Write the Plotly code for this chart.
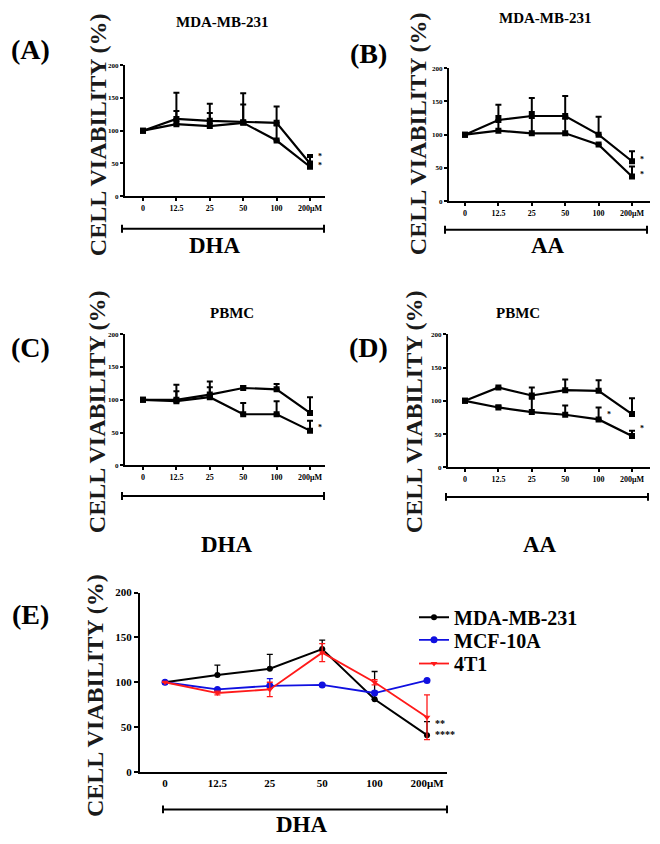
import plotly.graph_objects as go

doses = ["0", "12.5", "25", "50", "100", "200μM"]
xpos = [0, 1, 2, 3, 4, 5]
yticks = [0, 50, 100, 150, 200]

# Panel A: MDA-MB-231, DHA
A_s1 = [100, 118, 115, 113, 112, 50]
A_s1_err = [0, 40, 26, 44, 25, 13]
A_s2 = [100, 110, 107, 112, 85, 45]
A_s2_err = [0, 20, 20, 28, 23, 15]
# Panel B: MDA-MB-231, AA
B_s1 = [100, 122, 128, 128, 100, 60]
B_s1_err = [0, 23, 27, 30, 27, 15]
B_s2 = [100, 106, 102, 102, 85, 37]
B_s2_err = [0, 22, 32, 22, 0, 15]
# Panel C: PBMC, DHA
C_s1 = [100, 100, 108, 118, 116, 80]
C_s1_err = [0, 23, 20, 3, 8, 24]
C_s2 = [100, 98, 104, 78, 78, 53]
C_s2_err = [0, 15, 15, 17, 20, 15]
# Panel D: PBMC, AA
D_s1 = [100, 120, 108, 116, 115, 80]
D_s1_err = [0, 0, 12, 16, 16, 24]
D_s2 = [100, 90, 83, 79, 72, 47]
D_s2_err = [0, 3, 20, 14, 18, 8]
# Panel E: DHA on three cell lines
E_names = ["MDA-MB-231", "MCF-10A", "4T1"]
E_mda = [100, 108, 115, 137, 81, 41]
E_mda_err = [0, 11, 16, 10, 31, 15]
E_mcf = [100, 92, 96, 97, 88, 102]
E_mcf_err = [0, 1, 8, 1, 2, 1]
E_4t1 = [100, 88, 92, 133, 100, 61]
E_4t1_err = [0, 2, 8, 10, 3, 25]

W, H = 660, 844
SERIF = "Liberation Serif"


def px(x):
    return x / W


def py(y):
    return 1 - y / H


fig = go.Figure()
zeros = [0] * 6

panels = [
    ("", A_s1, A_s1_err, A_s2, A_s2_err, (125, 325, 60, 193), 143, 310),
    ("2", B_s1, B_s1_err, B_s2, B_s2_err, (449, 650, 63, 198), 465, 632),
    ("3", C_s1, C_s1_err, C_s2, C_s2_err, (125, 325, 333, 466), 143, 310),
    ("4", D_s1, D_s1_err, D_s2, D_s2_err, (448, 650, 333, 468), 465, 632),
]

layout_axes = {}
for key, s1, e1, s2, e2, box, x0px, x5px in panels:
    L, R, T, B = box
    sp = (x5px - x0px) / 5
    xr = [-(x0px - L) / sp, 5 + (R - x5px) / sp]
    for s, e in ((s1, e1), (s2, e2)):
        fig.add_trace(go.Scatter(
            x=xpos, y=s, mode="lines+markers", showlegend=False,
            xaxis="x" + key, yaxis="y" + key,
            line=dict(color="black", width=2.2),
            marker=dict(symbol="square", size=6, color="black"),
            error_y=dict(type="data", array=e, arrayminus=zeros, symmetric=False,
                         color="black", thickness=2, width=3),
        ))
    layout_axes["xaxis" + key] = dict(
        domain=[px(L), px(R)], range=xr, anchor="y" + key,
        tickmode="array", tickvals=xpos, ticktext=doses,
        showline=True, linecolor="black", linewidth=2, ticks="outside",
        ticklen=3, tickwidth=1.5, tickcolor="black", showgrid=False, zeroline=False,
        tickfont=dict(family=SERIF, size=8, color="black", weight="bold"),
    )
    layout_axes["yaxis" + key] = dict(
        domain=[py(B), py(T)], range=[0, 200], anchor="x" + key,
        tickvals=yticks, showline=True, linecolor="black", linewidth=2,
        ticks="outside", ticklen=3, tickwidth=1.5, tickcolor="black",
        showgrid=False, zeroline=False,
        tickfont=dict(family=SERIF, size=7, color="black", weight="bold"),
    )

# Panel E
L, R, T, B = (140, 447, 595, 777)
x0px, x5px = 165, 427
sp = (x5px - x0px) / 5
xrE = [-(x0px - L) / sp, 5 + (R - x5px) / sp]
fig.add_trace(go.Scatter(
    x=xpos, y=E_mda, mode="lines+markers", name=E_names[0], xaxis="x5", yaxis="y5",
    legend="legend",
    line=dict(color="black", width=2), marker=dict(symbol="circle", size=6, color="black"),
    error_y=dict(type="data", array=E_mda_err, arrayminus=zeros, symmetric=False,
                 color="black", thickness=1.3, width=3)))
fig.add_trace(go.Scatter(
    x=xpos, y=E_mcf, mode="lines+markers", name=E_names[1], xaxis="x5", yaxis="y5",
    legend="legend2",
    line=dict(color="#1010e0", width=1.8), marker=dict(symbol="circle", size=7, color="#1010e0"),
    error_y=dict(type="data", array=E_mcf_err, arrayminus=zeros, symmetric=False,
                 color="#1010e0", thickness=1.3, width=3)))
fig.add_trace(go.Scatter(
    x=xpos, y=E_4t1, mode="lines+markers", name=E_names[2], xaxis="x5", yaxis="y5",
    legend="legend3",
    line=dict(color="#ff1a1a", width=1.8), marker=dict(symbol="triangle-down", size=6, color="#ff1a1a"),
    error_y=dict(type="data", array=E_4t1_err, color="#ff1a1a", thickness=1.3, width=3)))

layout_axes["xaxis5"] = dict(
    domain=[px(L), px(R)], range=xrE, anchor="y5",
    tickmode="array", tickvals=xpos, ticktext=doses,
    showline=True, linecolor="black", linewidth=2, ticks="", showgrid=False, zeroline=False,
    tickfont=dict(family=SERIF, size=11, color="black", weight="bold"),
)
layout_axes["yaxis5"] = dict(
    domain=[py(B), py(T)], range=[0, 200], anchor="x5",
    tickvals=yticks, showline=True, linecolor="black", linewidth=2,
    ticks="outside", ticklen=4, tickwidth=2, tickcolor="black",
    showgrid=False, zeroline=False,
    tickfont=dict(family=SERIF, size=11, color="black", weight="bold"),
)

annotations = []
shapes = []


def text(x, y, s, size, bold=True, angle=0, color="black"):
    annotations.append(dict(
        x=px(x), y=py(y), xref="paper", yref="paper", text=s, showarrow=False,
        textangle=angle, xanchor="center", yanchor="middle",
        font=dict(family=SERIF, size=size, color=color, weight="bold" if bold else "normal"),
    ))


def bracket(x1, x2, y):
    shapes.append(dict(type="line", xref="paper", yref="paper",
                       x0=px(x1), x1=px(x2), y0=py(y), y1=py(y),
                       line=dict(color="black", width=2)))
    for xx in (x1, x2):
        shapes.append(dict(type="line", xref="paper", yref="paper",
                           x0=px(xx), x1=px(xx), y0=py(y - 4), y1=py(y + 4),
                           line=dict(color="black", width=2)))


# panel letters
text(31, 44, "(A)", 28)
text(368, 48, "(B)", 28)
text(31, 346, "(C)", 28)
text(368, 346, "(D)", 28)
text(31, 617, "(E)", 28)
# titles
text(222, 16, "MDA-MB-231", 15)
text(545, 12, "MDA-MB-231", 15)
text(232, 311, "PBMC", 15)
text(518, 311, "PBMC", 15)
# y titles
ytitle = "CELL VIABILITY (%)"
text(98, 131, ytitle, 24, angle=-90, color="#1a1a1a")
text(418, 130, ytitle, 24, angle=-90, color="#1a1a1a")
text(97, 412, ytitle, 24, angle=-90, color="#1a1a1a")
text(414, 412, ytitle, 24, angle=-90, color="#1a1a1a")
text(95, 700, ytitle, 24, angle=-90, color="#1a1a1a")
# x labels
text(215, 243, "DHA", 23)
text(548, 243, "AA", 23)
text(227, 546, "DHA", 23)
text(540, 546, "AA", 23)
text(302, 830, "DHA", 23)
# brackets
bracket(122, 324, 226)
bracket(445, 647, 227)
bracket(122, 324, 497)
bracket(446, 648, 498)
bracket(163, 447, 815)


def star(ax, x, y, s, size=8):
    annotations.append(dict(x=x, y=y, xref="x" + ax, yref="y" + ax, text=s, showarrow=False,
                            xanchor="left", yanchor="middle", xshift=3,
                            font=dict(family=SERIF, size=size, color="black", weight="bold")))


star("", 5.1, 60, "*")
star("", 5.1, 47, "*")
star("2", 5.1, 62, "*")
star("2", 5.1, 40, "*")
star("3", 5.1, 58, "*")
star("4", 4.1, 80, "*")
star("4", 5.1, 58, "*")
star("5", 5.05, 54, "**", 10)
star("5", 5.05, 42, "****", 10)

legfont = dict(family=SERIF, size=20, color="black", weight="bold")


def leg(yc):
    return dict(x=px(414), y=py(yc), xanchor="left", yanchor="middle", font=legfont,
                itemwidth=30, bgcolor="rgba(0,0,0,0)", borderwidth=0)


fig.update_layout(
    width=W, height=H, margin=dict(l=0, r=0, t=0, b=0),
    paper_bgcolor="white", plot_bgcolor="white",
    annotations=annotations, shapes=shapes,
    legend=leg(620), legend2=leg(643), legend3=leg(667),
    **layout_axes,
)

fig.write_html("out.html", config={"displayModeBar": False},
               post_script="document.body.style.margin='0';document.body.style.overflow='hidden';")
